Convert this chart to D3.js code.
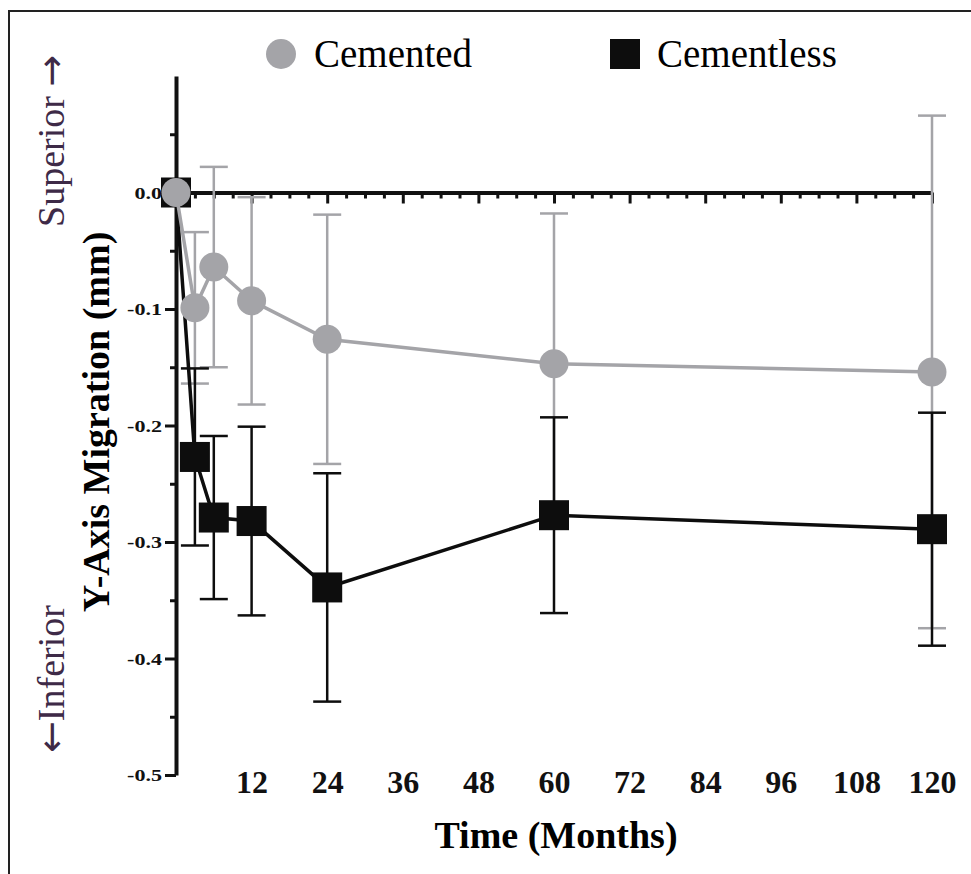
<!DOCTYPE html>
<html lang="en">
<head>
<meta charset="utf-8">
<style>
  body { margin: 0; background: #fff; }
  svg { display: block; font-family: "Liberation Serif", "Times New Roman", serif; }
  .axis path, .axis line { stroke: #111; }
  .arrow { font-family: "DejaVu Sans", sans-serif; }
</style>
</head>
<body>
<svg width="971" height="874"></svg>
<script src="https://d3js.org/d3.v7.min.js"></script>
<script>
// values (mm)
var months = [0, 3, 6, 12, 24, 60, 120];
var cemented = [0, -0.099, -0.064, -0.093, -0.126, -0.147, -0.154];
var cementedErr = [0, 0.065, 0.086, 0.089, 0.107, 0.129, 0.220];
var cementless = [0, -0.227, -0.279, -0.282, -0.339, -0.277, -0.289];
var cementlessErr = [0, 0.076, 0.070, 0.081, 0.098, 0.084, 0.100];

var xTickLabels = [12, 24, 36, 48, 60, 72, 84, 96, 108, 120];
var yTickLabels = [-0.5, -0.4, -0.3, -0.2, -0.1, 0.0];
var seriesNames = ["Cemented", "Cementless"];

var grey = "#a4a4a8", black = "#0d0d0d";

var svg = d3.select("svg");

var x = d3.scaleLinear().domain([0, 120]).range([176, 932]);
var y = d3.scaleLinear().domain([-0.5, 0.1]).range([775, 76]);

// frame
svg.append("path")
    .attr("d", "M9,874V11H971")
    .attr("fill", "none")
    .attr("stroke", "#222")
    .attr("stroke-width", 2);

// x axis along y = 0 (ticks only)
var xMinor = d3.range(3, 121, 3).filter(function (d) { return d % 12; });
svg.append("g").attr("class", "axis")
    .attr("transform", "translate(0," + y(0) + ")")
    .call(d3.axisBottom(x).tickValues(xMinor).tickSize(6).tickSizeOuter(0).tickFormat(""))
    .call(function (g) { g.select(".domain").remove(); })
    .selectAll("line").attr("stroke-width", 3);

svg.append("g").attr("class", "axis")
    .attr("transform", "translate(0," + y(0) + ")")
    .call(d3.axisBottom(x).tickValues(xTickLabels).tickSize(11).tickSizeOuter(0).tickFormat(""))
    .call(function (g) {
        g.select(".domain").attr("stroke-width", 4);
        g.selectAll("line").attr("stroke-width", 3);
    });

// x labels along the bottom
svg.append("g")
    .attr("transform", "translate(0," + y(-0.5) + ")")
    .call(d3.axisBottom(x).tickValues(xTickLabels).tickSize(0).tickPadding(0))
    .call(function (g) {
        g.select(".domain").remove();
        g.selectAll("text")
            .attr("y", 18)
            .attr("dy", 0)
            .attr("fill", "#111")
            .style("font-family", "'Liberation Serif', serif")
            .style("font-size", "32px")
            .style("font-weight", "bold");
    });

// y axis
var yMinor = d3.range(-0.45, 0.1, 0.1);
svg.append("g").attr("class", "axis")
    .attr("transform", "translate(" + x(0) + ",0)")
    .call(d3.axisLeft(y).tickValues(yMinor).tickSize(6).tickSizeOuter(0).tickFormat(""))
    .call(function (g) { g.select(".domain").remove(); })
    .selectAll("line").attr("stroke-width", 3);

svg.append("g").attr("class", "axis")
    .attr("transform", "translate(" + x(0) + ",0)")
    .call(d3.axisLeft(y).tickValues(yTickLabels).tickSize(11).tickSizeOuter(0)
        .tickFormat(function (d) { return d.toFixed(1); }))
    .call(function (g) {
        g.select(".domain").attr("stroke-width", 4);
        g.selectAll("line").attr("stroke-width", 3);
        g.selectAll("text")
            .attr("x", 0)
            .attr("dy", "0.35em")
            .attr("transform", "translate(-14,0) scale(1.3,1)")
            .attr("fill", "#111")
            .style("font-family", "'Liberation Serif', serif")
            .style("font-size", "17px")
            .style("font-weight", "bold");
    });

// titles
svg.append("text")
    .attr("x", 556).attr("y", 848)
    .attr("text-anchor", "middle")
    .style("font-size", "38px").style("font-weight", "bold")
    .text("Time (Months)");

svg.append("text")
    .attr("transform", "translate(109,422) rotate(-90)")
    .attr("text-anchor", "middle")
    .style("font-size", "38px").style("font-weight", "bold")
    .text("Y-Axis Migration (mm)");

var sup = svg.append("text")
    .attr("transform", "translate(64,227) rotate(-90)")
    .attr("fill", "#3e2a47")
    .style("font-size", "38px");
sup.append("tspan").text("Superior ");
sup.append("tspan").attr("class", "arrow").text("\u2192");

var inf = svg.append("text")
    .attr("transform", "translate(64,753) rotate(-90)")
    .attr("fill", "#3e2a47")
    .style("font-size", "38px");
inf.append("tspan").attr("class", "arrow").text("\u2190");
inf.append("tspan").text("Inferior");

// data
function rows(vals, errs) {
    return months.map(function (m, i) { return { m: m, v: vals[i], e: errs[i] }; });
}
var cem = rows(cemented, cementedErr);
var cless = rows(cementless, cementlessErr);

function errorBars(data, color, width) {
    var g = svg.append("g").attr("stroke", color).attr("stroke-width", width);
    var d = data.filter(function (r) { return r.e > 0; });
    g.selectAll(".v").data(d).enter().append("line")
        .attr("x1", function (r) { return x(r.m); })
        .attr("x2", function (r) { return x(r.m); })
        .attr("y1", function (r) { return y(r.v + r.e); })
        .attr("y2", function (r) { return y(r.v - r.e); });
    [1, -1].forEach(function (s) {
        g.selectAll(".cap" + s).data(d).enter().append("line")
            .attr("x1", function (r) { return x(r.m) - 14; })
            .attr("x2", function (r) { return x(r.m) + 14; })
            .attr("y1", function (r) { return y(r.v + s * r.e); })
            .attr("y2", function (r) { return y(r.v + s * r.e); });
    });
}

var line = d3.line()
    .x(function (r) { return x(r.m); })
    .y(function (r) { return y(r.v); });

errorBars(cem, grey, 2.5);
errorBars(cless, black, 2.5);

svg.append("path").datum(cless)
    .attr("d", line).attr("fill", "none")
    .attr("stroke", black).attr("stroke-width", 3.5);

svg.selectAll(".sq").data(cless).enter().append("rect")
    .attr("x", function (r) { return x(r.m) - 15; })
    .attr("y", function (r) { return y(r.v) - 15; })
    .attr("width", 30).attr("height", 30)
    .attr("fill", black);

svg.append("path").datum(cem)
    .attr("d", line).attr("fill", "none")
    .attr("stroke", grey).attr("stroke-width", 3.5);

svg.selectAll(".dot").data(cem).enter().append("circle")
    .attr("cx", function (r) { return x(r.m); })
    .attr("cy", function (r) { return y(r.v); })
    .attr("r", 14.5)
    .attr("fill", grey);

// legend
var legend = svg.append("g");
legend.append("circle").attr("cx", 281).attr("cy", 54).attr("r", 15).attr("fill", grey);
legend.append("text").attr("x", 314).attr("y", 67)
    .style("font-size", "39px").text(seriesNames[0]);
legend.append("rect").attr("x", 610).attr("y", 39).attr("width", 30).attr("height", 30).attr("fill", black);
legend.append("text").attr("x", 657).attr("y", 67)
    .style("font-size", "39px").text(seriesNames[1]);
</script>
</body>
</html>
